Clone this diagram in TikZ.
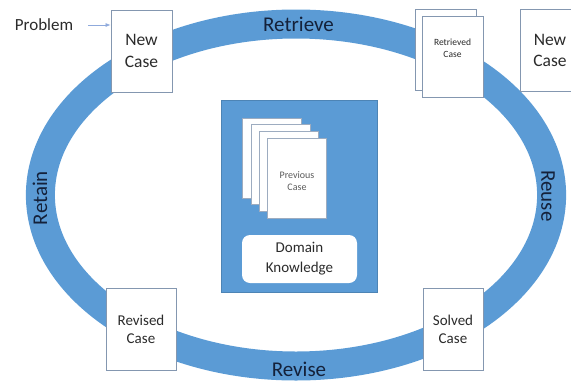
\documentclass[tikz,border=0pt]{standalone}
\usepackage{fontspec}
\setmainfont{Carlito}
\usetikzlibrary{arrows.meta}
\definecolor{ringblue}{HTML}{5B9BD5}
\definecolor{labelnavy}{HTML}{14213A}
\definecolor{boxedge}{HTML}{8497B0}
\definecolor{boxtext}{HTML}{2B2B2B}
\definecolor{arrowblue}{HTML}{8FAADC}
\definecolor{pagetext}{HTML}{5A5A5A}
\begin{document}
\begin{tikzpicture}[x=1pt,y=-1pt,
  casebox/.style={draw=boxedge, line width=0.8pt, fill=white, inner sep=0pt,
    align=center, text=boxtext},
  bigcase/.style={casebox, minimum width=61pt, minimum height=82pt,
    font=\fontsize{17.5}{21.5}\selectfont},
  smallcase/.style={casebox, minimum height=82pt,
    font=\fontsize{15}{18}\selectfont},
  paper/.style={draw=boxedge!80, line width=0.6pt, fill=white, inner sep=0pt,
    minimum width=59pt, minimum height=80pt, align=center, text=pagetext,
    font=\fontsize{10}{12}\selectfont},
  ringlabel/.style={text=labelnavy, inner sep=0pt,
    font=\fontsize{21}{24}\selectfont},
  feed/.style={-{Latex[length=5pt,width=4pt]}, draw=arrowblue, line width=0.7pt}]
\useasboundingbox (0,0) rectangle (571,381);
\clip (0,0) rectangle (571,381);

% the cycle ring
\draw[ringblue, line width=29pt] (296,195) ellipse [x radius=255.6pt, y radius=171pt];

% case base in the middle
\node[fill=ringblue, draw=ringblue!85!black, line width=0.6pt,
      minimum width=156pt, minimum height=192pt, inner sep=0pt] (kb) at (299,196) {};
\node[paper] (p1) at (272,158) {};
\node[paper] (p2) at (280.3,164.7) {};
\node[paper] (p3) at (288.7,171.3) {};
\node[paper] (p4) at (297,178) {\\[1pt]Previous\\Case};
\node[fill=white, rounded corners=8pt, minimum width=115pt, minimum height=48pt,
      inner sep=0pt, align=center, text=boxtext,
      font=\fontsize{15}{20}\selectfont] (dk) at (299.5,259) {Domain\\Knowledge};

% phase labels on the ring
\node[ringlabel] (lretrieve) at (298.5,24) {Retrieve};
\node[ringlabel] (lrevise) at (299,369) {Revise};
\node[ringlabel, rotate=90] (lretain) at (40,198) {Retain};
\node[ringlabel, rotate=-90] (lreuse) at (548,196) {Reuse};

% cases around the cycle
\node[bigcase] (newcase) at (141.5,51) {New\\Case};
\node[paper, draw=boxedge, minimum width=61pt, minimum height=81pt] (retback) at (445.5,50) {};
\node[paper, draw=boxedge, minimum width=61pt, minimum height=81pt,
      text=boxtext, font=\fontsize{9.5}{12}\selectfont] (retrieved) at (452.5,56.5) {Retrieved\\Case\\[4pt]};
\node[bigcase, minimum width=60pt] (newcase2) at (550,50.5) {New\\Case};
\node[smallcase, minimum width=70pt] (revised) at (141,329) {Revised\\Case};
\node[smallcase, minimum width=60pt] (solved) at (453,329) {Solved\\Case};

% incoming problem
\node[text=boxtext, inner sep=0pt, font=\fontsize{17}{20}\selectfont] (problem) at (44,25) {Problem};
\draw[feed, shorten <=15pt] (problem.east) -- (problem.east -| newcase.west);
\end{tikzpicture}
\end{document}
